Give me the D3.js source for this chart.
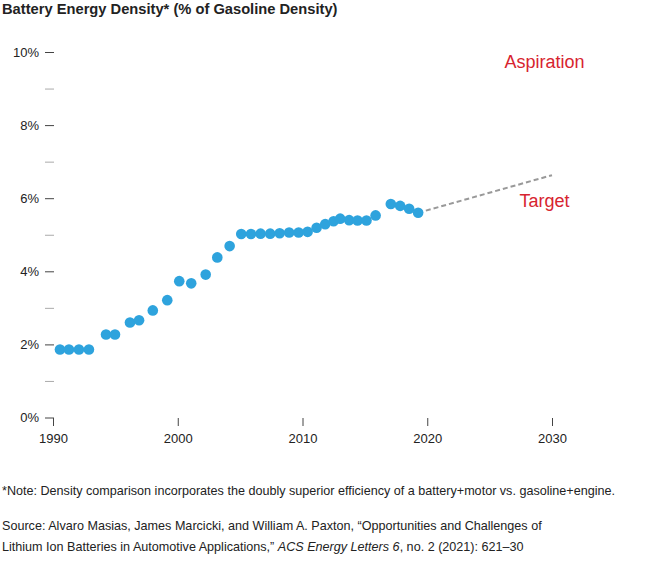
<!DOCTYPE html>
<html>
<head>
<meta charset="utf-8">
<script src="https://cdn.jsdelivr.net/npm/d3@7"></script>
<style>
	body { margin: 0; background: #fff; }
	text { font-family: "Liberation Sans", Arial, sans-serif; }
</style>
</head>
<body>
<div id="render"></div>
<script>
const years = [1990.56, 1991.28, 1992.08, 1992.88, 1994.25, 1994.97, 1996.17, 1996.9, 1998.0, 1999.16,
	2000.12, 2001.08, 2002.24, 2003.17, 2004.16, 2005.09, 2005.87, 2006.64, 2007.41, 2008.17,
	2008.93, 2009.69, 2010.41, 2011.13, 2011.82, 2012.49, 2013.02, 2013.74, 2014.41, 2015.13,
	2015.86, 2017.08, 2017.83, 2018.55, 2019.27];
const density = [1.86, 1.86, 1.86, 1.86, 2.27, 2.27, 2.60, 2.66, 2.93, 3.21,
	3.73, 3.67, 3.91, 4.38, 4.69, 5.02, 5.02, 5.03, 5.03, 5.04,
	5.06, 5.06, 5.08, 5.19, 5.29, 5.37, 5.44, 5.40, 5.39, 5.39,
	5.53, 5.84, 5.79, 5.71, 5.60];
const targetYears = [2019.27, 2030];
const targetValues = [5.60, 6.63];
const xTicks = [1990, 2000, 2010, 2020, 2030];
const yMajor = [0, 2, 4, 6, 8, 10];
const yMinor = [1, 3, 5, 7, 9];

const width = 645, height = 567;
const svg = d3.select('#render').append('svg').attr('width', width).attr('height', height);

const x = d3.scaleLinear().domain([1990, 2030]).range([53, 552]);
const y = d3.scaleLinear().domain([0, 10]).range([417.5, 52]);

svg.append('text').attr('x', 2).attr('y', 14)
	.attr('font-size', 14.7).attr('font-weight', 'bold').attr('fill', '#222')
	.text('Battery Energy Density* (% of Gasoline Density)');

// y axis: major ticks with labels, minor ticks gray
const yAxis = svg.append('g').attr('transform', 'translate(54,0)')
	.call(d3.axisLeft(y).tickValues(yMajor).tickSize(9).tickPadding(6).tickFormat(d => d + '%'));
yAxis.select('.domain').remove();
yAxis.selectAll('line').attr('stroke', '#444');
yAxis.selectAll('text').attr('font-size', 13).attr('fill', '#222')
	.attr('font-family', '"Liberation Sans", Arial, sans-serif');

const yAxisMinor = svg.append('g').attr('transform', 'translate(54,0)')
	.call(d3.axisLeft(y).tickValues(yMinor).tickSize(9).tickFormat(''));
yAxisMinor.select('.domain').remove();
yAxisMinor.selectAll('line').attr('stroke', '#aaa');

const xAxis = svg.append('g').attr('transform', 'translate(0,418)')
	.call(d3.axisBottom(x).tickValues(xTicks).tickSize(8).tickPadding(8).tickFormat(d3.format('d')));
xAxis.select('.domain').remove();
xAxis.selectAll('line').attr('stroke', '#444');
xAxis.selectAll('text').attr('font-size', 13).attr('fill', '#222')
	.attr('font-family', '"Liberation Sans", Arial, sans-serif');

// target projection
svg.append('path')
	.attr('d', d3.line().x((d, i) => x(targetYears[i])).y(d => y(d))(targetValues))
	.attr('fill', 'none').attr('stroke', '#999').attr('stroke-width', 2)
	.attr('stroke-dasharray', '5,3');

svg.append('g').selectAll('circle').data(density).join('circle')
	.attr('cx', (d, i) => x(years[i]))
	.attr('cy', d => y(d))
	.attr('r', 5.3)
	.attr('fill', '#2ea3dd');

svg.append('text').attr('x', 544.5).attr('y', 68).attr('text-anchor', 'middle')
	.attr('font-size', 18).attr('fill', '#d7242f').text('Aspiration');
svg.append('text').attr('x', 544.5).attr('y', 207).attr('text-anchor', 'middle')
	.attr('font-size', 18).attr('fill', '#d7242f').text('Target');

const foot = svg.append('g').attr('font-size', 12.6).attr('fill', '#222');
foot.append('text').attr('x', 2).attr('y', 495)
	.text('*Note: Density comparison incorporates the doubly superior efficiency of a battery+motor vs. gasoline+engine.');
foot.append('text').attr('x', 2).attr('y', 530)
	.text('Source: Alvaro Masias, James Marcicki, and William A. Paxton, \u201cOpportunities and Challenges of');
const src2 = foot.append('text').attr('x', 2).attr('y', 551);
src2.append('tspan').text('Lithium Ion Batteries in Automotive Applications,\u201d ');
src2.append('tspan').attr('font-style', 'italic').text('ACS Energy Letters 6');
src2.append('tspan').text(', no. 2 (2021): 621\u201330');
</script>
</body>
</html>
